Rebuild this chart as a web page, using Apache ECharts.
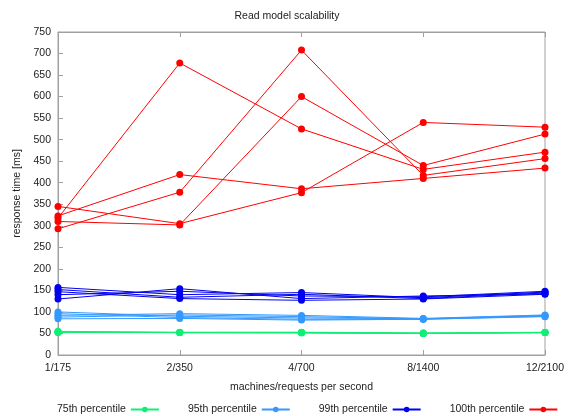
<!DOCTYPE html>
<html>
<head>
  <meta charset="UTF-8" />
  <title>Read model scalability</title>
  <script src="https://cdn.jsdelivr.net/npm/echarts@6/dist/echarts.min.js"></script>
  <style>
    body { margin: 0; background: #fff; }
    #chart { width: 574px; height: 416px; }
  </style>
</head>
<body>
  <div id="chart"></div>
  <script>
    const categories = ['1/175', '2/350', '4/700', '8/1400', '12/2100'];

    // five runs per percentile
    const p75 = [
      [54, 53, 53, 51, 52],
      [53, 52, 52, 50, 52],
      [55, 52, 52, 50, 53],
      [52, 52, 51, 50, 52],
      [53, 52, 52, 51, 52]
    ];
    const p95 = [
      [100, 90, 86, 84, 92],
      [96, 87, 83, 83, 90],
      [92, 96, 92, 85, 93],
      [88, 93, 89, 84, 91],
      [84, 85, 81, 83, 89]
    ];
    const p99 = [
      [157, 140, 145, 133, 146],
      [152, 134, 141, 131, 144],
      [147, 131, 127, 130, 141],
      [140, 148, 137, 135, 148],
      [130, 154, 131, 137, 142]
    ];
    const p100 = [
      [318, 678, 525, 431, 471],
      [323, 419, 386, 410, 434],
      [293, 378, 708, 417, 456],
      [310, 302, 600, 440, 513],
      [345, 305, 377, 540, 529]
    ];

    const groups = [
      { name: '75th percentile', color: '#11ee77', runs: p75 },
      { name: '95th percentile', color: '#3399ff', runs: p95 },
      { name: '99th percentile', color: '#0000ee', runs: p99 },
      { name: '100th percentile', color: '#ff0000', runs: p100 }
    ];

    const series = [];
    groups.forEach(g => {
      g.runs.forEach(run => {
        series.push({
          name: g.name,
          type: 'line',
          data: run,
          symbol: 'circle',
          symbolSize: 7,
          color: g.color,
          lineStyle: { width: 1, color: g.color },
          itemStyle: { color: g.color },
          emphasis: { disabled: true },
          animation: false
        });
      });
    });

    const textColor = '#222';
    const fs = 10.5;
    const font = 'Liberation Sans, Arial, sans-serif';
    const chart = echarts.init(document.getElementById('chart'));
    chart.setOption({
      textStyle: { fontFamily: font },
      title: {
        text: 'Read model scalability',
        left: 'center',
        top: 6,
        textStyle: { fontSize: fs, fontWeight: 'normal', color: textColor, fontFamily: font }
      },
      grid: {
        left: 58, right: 29, top: 32, bottom: 61,
        show: true, borderColor: '#a0a0a0', borderWidth: 1
      },
      legend: {
        top: 399,
        left: 52,
        align: 'right',
        itemWidth: 28,
        itemHeight: 7,
        itemGap: 28,
        textStyle: { fontSize: fs, color: textColor, fontFamily: font },
        data: groups.map(g => g.name)
      },
      xAxis: [{
        type: 'category',
        data: categories,
        boundaryGap: false,
        name: 'machines/requests per second',
        nameLocation: 'middle',
        nameGap: 27,
        nameTextStyle: { fontSize: fs, color: textColor },
        axisLine: { lineStyle: { color: '#a0a0a0' } },
        axisTick: { inside: true, length: 5, lineStyle: { color: '#a0a0a0' } },
        axisLabel: { fontSize: fs, color: textColor, margin: 8 },
        splitLine: { show: false }
      }, {
        type: 'category',
        data: categories,
        boundaryGap: false,
        position: 'top',
        axisLine: { lineStyle: { color: '#a0a0a0' } },
        axisTick: { inside: true, length: 5, lineStyle: { color: '#a0a0a0' } },
        axisLabel: { show: false },
        splitLine: { show: false }
      }],
      yAxis: {
        type: 'value',
        min: 0,
        max: 750,
        interval: 50,
        name: 'response time [ms]',
        nameLocation: 'middle',
        nameGap: 35,
        nameTextStyle: { fontSize: fs, color: textColor },
        axisLine: { show: true, lineStyle: { color: '#a0a0a0' } },
        axisTick: { show: true, inside: true, length: 5, lineStyle: { color: '#a0a0a0' } },
        axisLabel: { fontSize: fs, color: textColor, margin: 7 },
        splitLine: { show: false }
      },
      series: series
    });
  </script>
</body>
</html>
